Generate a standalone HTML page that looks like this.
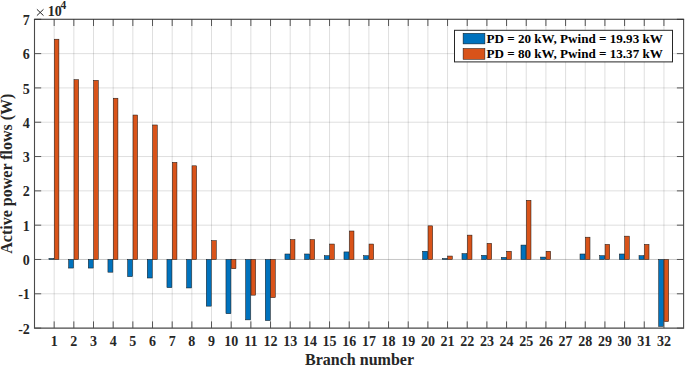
<!DOCTYPE html>
<html><head><meta charset="utf-8"><style>
html,body{margin:0;padding:0;background:#fff;width:685px;height:366px;overflow:hidden}
svg{display:block}
text{font-family:"Liberation Serif",serif;fill:#262626}
.t{font-size:14px;font-weight:bold}
.e{font-size:14px;font-weight:normal}
.s{font-size:11.5px;font-weight:bold}
.l{font-size:16px;font-weight:bold}
.g{font-size:13.1px;font-weight:bold;fill:#000}
</style></head><body>
<svg width="685" height="366" viewBox="0 0 685 366">
<line x1="54.17" y1="19.30" x2="54.17" y2="328.10" stroke="#262626" stroke-opacity="0.15" stroke-width="1"/>
<line x1="73.84" y1="19.30" x2="73.84" y2="328.10" stroke="#262626" stroke-opacity="0.15" stroke-width="1"/>
<line x1="93.51" y1="19.30" x2="93.51" y2="328.10" stroke="#262626" stroke-opacity="0.15" stroke-width="1"/>
<line x1="113.18" y1="19.30" x2="113.18" y2="328.10" stroke="#262626" stroke-opacity="0.15" stroke-width="1"/>
<line x1="132.85" y1="19.30" x2="132.85" y2="328.10" stroke="#262626" stroke-opacity="0.15" stroke-width="1"/>
<line x1="152.52" y1="19.30" x2="152.52" y2="328.10" stroke="#262626" stroke-opacity="0.15" stroke-width="1"/>
<line x1="172.19" y1="19.30" x2="172.19" y2="328.10" stroke="#262626" stroke-opacity="0.15" stroke-width="1"/>
<line x1="191.86" y1="19.30" x2="191.86" y2="328.10" stroke="#262626" stroke-opacity="0.15" stroke-width="1"/>
<line x1="211.53" y1="19.30" x2="211.53" y2="328.10" stroke="#262626" stroke-opacity="0.15" stroke-width="1"/>
<line x1="231.20" y1="19.30" x2="231.20" y2="328.10" stroke="#262626" stroke-opacity="0.15" stroke-width="1"/>
<line x1="250.87" y1="19.30" x2="250.87" y2="328.10" stroke="#262626" stroke-opacity="0.15" stroke-width="1"/>
<line x1="270.54" y1="19.30" x2="270.54" y2="328.10" stroke="#262626" stroke-opacity="0.15" stroke-width="1"/>
<line x1="290.21" y1="19.30" x2="290.21" y2="328.10" stroke="#262626" stroke-opacity="0.15" stroke-width="1"/>
<line x1="309.88" y1="19.30" x2="309.88" y2="328.10" stroke="#262626" stroke-opacity="0.15" stroke-width="1"/>
<line x1="329.55" y1="19.30" x2="329.55" y2="328.10" stroke="#262626" stroke-opacity="0.15" stroke-width="1"/>
<line x1="349.22" y1="19.30" x2="349.22" y2="328.10" stroke="#262626" stroke-opacity="0.15" stroke-width="1"/>
<line x1="368.88" y1="19.30" x2="368.88" y2="328.10" stroke="#262626" stroke-opacity="0.15" stroke-width="1"/>
<line x1="388.55" y1="19.30" x2="388.55" y2="328.10" stroke="#262626" stroke-opacity="0.15" stroke-width="1"/>
<line x1="408.22" y1="19.30" x2="408.22" y2="328.10" stroke="#262626" stroke-opacity="0.15" stroke-width="1"/>
<line x1="427.89" y1="19.30" x2="427.89" y2="328.10" stroke="#262626" stroke-opacity="0.15" stroke-width="1"/>
<line x1="447.56" y1="19.30" x2="447.56" y2="328.10" stroke="#262626" stroke-opacity="0.15" stroke-width="1"/>
<line x1="467.23" y1="19.30" x2="467.23" y2="328.10" stroke="#262626" stroke-opacity="0.15" stroke-width="1"/>
<line x1="486.90" y1="19.30" x2="486.90" y2="328.10" stroke="#262626" stroke-opacity="0.15" stroke-width="1"/>
<line x1="506.57" y1="19.30" x2="506.57" y2="328.10" stroke="#262626" stroke-opacity="0.15" stroke-width="1"/>
<line x1="526.24" y1="19.30" x2="526.24" y2="328.10" stroke="#262626" stroke-opacity="0.15" stroke-width="1"/>
<line x1="545.91" y1="19.30" x2="545.91" y2="328.10" stroke="#262626" stroke-opacity="0.15" stroke-width="1"/>
<line x1="565.58" y1="19.30" x2="565.58" y2="328.10" stroke="#262626" stroke-opacity="0.15" stroke-width="1"/>
<line x1="585.25" y1="19.30" x2="585.25" y2="328.10" stroke="#262626" stroke-opacity="0.15" stroke-width="1"/>
<line x1="604.92" y1="19.30" x2="604.92" y2="328.10" stroke="#262626" stroke-opacity="0.15" stroke-width="1"/>
<line x1="624.59" y1="19.30" x2="624.59" y2="328.10" stroke="#262626" stroke-opacity="0.15" stroke-width="1"/>
<line x1="644.26" y1="19.30" x2="644.26" y2="328.10" stroke="#262626" stroke-opacity="0.15" stroke-width="1"/>
<line x1="663.93" y1="19.30" x2="663.93" y2="328.10" stroke="#262626" stroke-opacity="0.15" stroke-width="1"/>
<line x1="34.50" y1="293.79" x2="683.60" y2="293.79" stroke="#262626" stroke-opacity="0.15" stroke-width="1"/>
<line x1="34.50" y1="259.48" x2="683.60" y2="259.48" stroke="#262626" stroke-opacity="0.26" stroke-width="1"/>
<line x1="34.50" y1="225.17" x2="683.60" y2="225.17" stroke="#262626" stroke-opacity="0.15" stroke-width="1"/>
<line x1="34.50" y1="190.86" x2="683.60" y2="190.86" stroke="#262626" stroke-opacity="0.15" stroke-width="1"/>
<line x1="34.50" y1="156.54" x2="683.60" y2="156.54" stroke="#262626" stroke-opacity="0.15" stroke-width="1"/>
<line x1="34.50" y1="122.23" x2="683.60" y2="122.23" stroke="#262626" stroke-opacity="0.15" stroke-width="1"/>
<line x1="34.50" y1="87.92" x2="683.60" y2="87.92" stroke="#262626" stroke-opacity="0.15" stroke-width="1"/>
<line x1="34.50" y1="53.61" x2="683.60" y2="53.61" stroke="#262626" stroke-opacity="0.15" stroke-width="1"/>
<rect x="48.92" y="258.45" width="4.95" height="1.03" fill="#0072BD" stroke="#111" stroke-width="0.5"/>
<rect x="54.32" y="39.20" width="4.60" height="220.28" fill="#D95319" stroke="#111" stroke-width="0.5"/>
<rect x="68.59" y="259.48" width="4.95" height="8.58" fill="#0072BD" stroke="#111" stroke-width="0.5"/>
<rect x="73.99" y="79.69" width="4.60" height="179.79" fill="#D95319" stroke="#111" stroke-width="0.5"/>
<rect x="88.26" y="259.48" width="4.95" height="8.58" fill="#0072BD" stroke="#111" stroke-width="0.5"/>
<rect x="93.66" y="80.37" width="4.60" height="179.10" fill="#D95319" stroke="#111" stroke-width="0.5"/>
<rect x="107.93" y="259.48" width="4.95" height="12.70" fill="#0072BD" stroke="#111" stroke-width="0.5"/>
<rect x="113.33" y="98.22" width="4.60" height="161.26" fill="#D95319" stroke="#111" stroke-width="0.5"/>
<rect x="127.60" y="259.48" width="4.95" height="17.16" fill="#0072BD" stroke="#111" stroke-width="0.5"/>
<rect x="133.00" y="115.03" width="4.60" height="144.45" fill="#D95319" stroke="#111" stroke-width="0.5"/>
<rect x="147.27" y="259.48" width="4.95" height="18.53" fill="#0072BD" stroke="#111" stroke-width="0.5"/>
<rect x="152.67" y="124.98" width="4.60" height="134.50" fill="#D95319" stroke="#111" stroke-width="0.5"/>
<rect x="166.94" y="259.48" width="4.95" height="28.14" fill="#0072BD" stroke="#111" stroke-width="0.5"/>
<rect x="172.34" y="162.38" width="4.60" height="97.10" fill="#D95319" stroke="#111" stroke-width="0.5"/>
<rect x="186.61" y="259.48" width="4.95" height="28.48" fill="#0072BD" stroke="#111" stroke-width="0.5"/>
<rect x="192.01" y="165.81" width="4.60" height="93.67" fill="#D95319" stroke="#111" stroke-width="0.5"/>
<rect x="206.28" y="259.48" width="4.95" height="46.66" fill="#0072BD" stroke="#111" stroke-width="0.5"/>
<rect x="211.68" y="240.61" width="4.60" height="18.87" fill="#D95319" stroke="#111" stroke-width="0.5"/>
<rect x="225.95" y="259.48" width="4.95" height="54.21" fill="#0072BD" stroke="#111" stroke-width="0.5"/>
<rect x="231.35" y="259.48" width="4.60" height="9.26" fill="#D95319" stroke="#111" stroke-width="0.5"/>
<rect x="245.62" y="259.48" width="4.95" height="60.39" fill="#0072BD" stroke="#111" stroke-width="0.5"/>
<rect x="251.02" y="259.48" width="4.60" height="35.68" fill="#D95319" stroke="#111" stroke-width="0.5"/>
<rect x="265.29" y="259.48" width="4.95" height="61.07" fill="#0072BD" stroke="#111" stroke-width="0.5"/>
<rect x="270.69" y="259.48" width="4.60" height="38.09" fill="#D95319" stroke="#111" stroke-width="0.5"/>
<rect x="284.96" y="253.99" width="4.95" height="5.49" fill="#0072BD" stroke="#111" stroke-width="0.5"/>
<rect x="290.36" y="239.58" width="4.60" height="19.90" fill="#D95319" stroke="#111" stroke-width="0.5"/>
<rect x="304.63" y="253.99" width="4.95" height="5.49" fill="#0072BD" stroke="#111" stroke-width="0.5"/>
<rect x="310.03" y="239.58" width="4.60" height="19.90" fill="#D95319" stroke="#111" stroke-width="0.5"/>
<rect x="324.30" y="255.70" width="4.95" height="3.77" fill="#0072BD" stroke="#111" stroke-width="0.5"/>
<rect x="329.70" y="244.04" width="4.60" height="15.44" fill="#D95319" stroke="#111" stroke-width="0.5"/>
<rect x="343.97" y="251.93" width="4.95" height="7.55" fill="#0072BD" stroke="#111" stroke-width="0.5"/>
<rect x="349.37" y="231.00" width="4.60" height="28.48" fill="#D95319" stroke="#111" stroke-width="0.5"/>
<rect x="363.63" y="255.70" width="4.95" height="3.77" fill="#0072BD" stroke="#111" stroke-width="0.5"/>
<rect x="369.03" y="244.04" width="4.60" height="15.44" fill="#D95319" stroke="#111" stroke-width="0.5"/>
<rect x="422.64" y="251.24" width="4.95" height="8.23" fill="#0072BD" stroke="#111" stroke-width="0.5"/>
<rect x="428.04" y="225.85" width="4.60" height="33.62" fill="#D95319" stroke="#111" stroke-width="0.5"/>
<rect x="442.31" y="258.45" width="4.95" height="1.03" fill="#0072BD" stroke="#111" stroke-width="0.5"/>
<rect x="447.71" y="256.05" width="4.60" height="3.43" fill="#D95319" stroke="#111" stroke-width="0.5"/>
<rect x="461.98" y="253.64" width="4.95" height="5.83" fill="#0072BD" stroke="#111" stroke-width="0.5"/>
<rect x="467.38" y="235.12" width="4.60" height="24.36" fill="#D95319" stroke="#111" stroke-width="0.5"/>
<rect x="481.65" y="255.36" width="4.95" height="4.12" fill="#0072BD" stroke="#111" stroke-width="0.5"/>
<rect x="487.05" y="243.35" width="4.60" height="16.13" fill="#D95319" stroke="#111" stroke-width="0.5"/>
<rect x="501.32" y="257.42" width="4.95" height="2.06" fill="#0072BD" stroke="#111" stroke-width="0.5"/>
<rect x="506.72" y="251.24" width="4.60" height="8.23" fill="#D95319" stroke="#111" stroke-width="0.5"/>
<rect x="520.99" y="245.07" width="4.95" height="14.41" fill="#0072BD" stroke="#111" stroke-width="0.5"/>
<rect x="526.39" y="200.29" width="4.60" height="59.19" fill="#D95319" stroke="#111" stroke-width="0.5"/>
<rect x="540.66" y="257.08" width="4.95" height="2.40" fill="#0072BD" stroke="#111" stroke-width="0.5"/>
<rect x="546.06" y="251.24" width="4.60" height="8.23" fill="#D95319" stroke="#111" stroke-width="0.5"/>
<rect x="580.00" y="253.99" width="4.95" height="5.49" fill="#0072BD" stroke="#111" stroke-width="0.5"/>
<rect x="585.40" y="237.18" width="4.60" height="22.30" fill="#D95319" stroke="#111" stroke-width="0.5"/>
<rect x="599.67" y="255.70" width="4.95" height="3.77" fill="#0072BD" stroke="#111" stroke-width="0.5"/>
<rect x="605.07" y="244.38" width="4.60" height="15.10" fill="#D95319" stroke="#111" stroke-width="0.5"/>
<rect x="619.34" y="253.99" width="4.95" height="5.49" fill="#0072BD" stroke="#111" stroke-width="0.5"/>
<rect x="624.74" y="236.15" width="4.60" height="23.33" fill="#D95319" stroke="#111" stroke-width="0.5"/>
<rect x="639.01" y="255.70" width="4.95" height="3.77" fill="#0072BD" stroke="#111" stroke-width="0.5"/>
<rect x="644.41" y="244.38" width="4.60" height="15.10" fill="#D95319" stroke="#111" stroke-width="0.5"/>
<rect x="658.68" y="259.48" width="4.95" height="66.91" fill="#0072BD" stroke="#111" stroke-width="0.5"/>
<rect x="664.08" y="259.48" width="4.60" height="62.10" fill="#D95319" stroke="#111" stroke-width="0.5"/>
<line x1="54.17" y1="328.10" x2="54.17" y2="321.40" stroke="#555" stroke-width="1"/>
<line x1="54.17" y1="19.30" x2="54.17" y2="26.00" stroke="#555" stroke-width="1"/>
<line x1="73.84" y1="328.10" x2="73.84" y2="321.40" stroke="#555" stroke-width="1"/>
<line x1="73.84" y1="19.30" x2="73.84" y2="26.00" stroke="#555" stroke-width="1"/>
<line x1="93.51" y1="328.10" x2="93.51" y2="321.40" stroke="#555" stroke-width="1"/>
<line x1="93.51" y1="19.30" x2="93.51" y2="26.00" stroke="#555" stroke-width="1"/>
<line x1="113.18" y1="328.10" x2="113.18" y2="321.40" stroke="#555" stroke-width="1"/>
<line x1="113.18" y1="19.30" x2="113.18" y2="26.00" stroke="#555" stroke-width="1"/>
<line x1="132.85" y1="328.10" x2="132.85" y2="321.40" stroke="#555" stroke-width="1"/>
<line x1="132.85" y1="19.30" x2="132.85" y2="26.00" stroke="#555" stroke-width="1"/>
<line x1="152.52" y1="328.10" x2="152.52" y2="321.40" stroke="#555" stroke-width="1"/>
<line x1="152.52" y1="19.30" x2="152.52" y2="26.00" stroke="#555" stroke-width="1"/>
<line x1="172.19" y1="328.10" x2="172.19" y2="321.40" stroke="#555" stroke-width="1"/>
<line x1="172.19" y1="19.30" x2="172.19" y2="26.00" stroke="#555" stroke-width="1"/>
<line x1="191.86" y1="328.10" x2="191.86" y2="321.40" stroke="#555" stroke-width="1"/>
<line x1="191.86" y1="19.30" x2="191.86" y2="26.00" stroke="#555" stroke-width="1"/>
<line x1="211.53" y1="328.10" x2="211.53" y2="321.40" stroke="#555" stroke-width="1"/>
<line x1="211.53" y1="19.30" x2="211.53" y2="26.00" stroke="#555" stroke-width="1"/>
<line x1="231.20" y1="328.10" x2="231.20" y2="321.40" stroke="#555" stroke-width="1"/>
<line x1="231.20" y1="19.30" x2="231.20" y2="26.00" stroke="#555" stroke-width="1"/>
<line x1="250.87" y1="328.10" x2="250.87" y2="321.40" stroke="#555" stroke-width="1"/>
<line x1="250.87" y1="19.30" x2="250.87" y2="26.00" stroke="#555" stroke-width="1"/>
<line x1="270.54" y1="328.10" x2="270.54" y2="321.40" stroke="#555" stroke-width="1"/>
<line x1="270.54" y1="19.30" x2="270.54" y2="26.00" stroke="#555" stroke-width="1"/>
<line x1="290.21" y1="328.10" x2="290.21" y2="321.40" stroke="#555" stroke-width="1"/>
<line x1="290.21" y1="19.30" x2="290.21" y2="26.00" stroke="#555" stroke-width="1"/>
<line x1="309.88" y1="328.10" x2="309.88" y2="321.40" stroke="#555" stroke-width="1"/>
<line x1="309.88" y1="19.30" x2="309.88" y2="26.00" stroke="#555" stroke-width="1"/>
<line x1="329.55" y1="328.10" x2="329.55" y2="321.40" stroke="#555" stroke-width="1"/>
<line x1="329.55" y1="19.30" x2="329.55" y2="26.00" stroke="#555" stroke-width="1"/>
<line x1="349.22" y1="328.10" x2="349.22" y2="321.40" stroke="#555" stroke-width="1"/>
<line x1="349.22" y1="19.30" x2="349.22" y2="26.00" stroke="#555" stroke-width="1"/>
<line x1="368.88" y1="328.10" x2="368.88" y2="321.40" stroke="#555" stroke-width="1"/>
<line x1="368.88" y1="19.30" x2="368.88" y2="26.00" stroke="#555" stroke-width="1"/>
<line x1="388.55" y1="328.10" x2="388.55" y2="321.40" stroke="#555" stroke-width="1"/>
<line x1="388.55" y1="19.30" x2="388.55" y2="26.00" stroke="#555" stroke-width="1"/>
<line x1="408.22" y1="328.10" x2="408.22" y2="321.40" stroke="#555" stroke-width="1"/>
<line x1="408.22" y1="19.30" x2="408.22" y2="26.00" stroke="#555" stroke-width="1"/>
<line x1="427.89" y1="328.10" x2="427.89" y2="321.40" stroke="#555" stroke-width="1"/>
<line x1="427.89" y1="19.30" x2="427.89" y2="26.00" stroke="#555" stroke-width="1"/>
<line x1="447.56" y1="328.10" x2="447.56" y2="321.40" stroke="#555" stroke-width="1"/>
<line x1="447.56" y1="19.30" x2="447.56" y2="26.00" stroke="#555" stroke-width="1"/>
<line x1="467.23" y1="328.10" x2="467.23" y2="321.40" stroke="#555" stroke-width="1"/>
<line x1="467.23" y1="19.30" x2="467.23" y2="26.00" stroke="#555" stroke-width="1"/>
<line x1="486.90" y1="328.10" x2="486.90" y2="321.40" stroke="#555" stroke-width="1"/>
<line x1="486.90" y1="19.30" x2="486.90" y2="26.00" stroke="#555" stroke-width="1"/>
<line x1="506.57" y1="328.10" x2="506.57" y2="321.40" stroke="#555" stroke-width="1"/>
<line x1="506.57" y1="19.30" x2="506.57" y2="26.00" stroke="#555" stroke-width="1"/>
<line x1="526.24" y1="328.10" x2="526.24" y2="321.40" stroke="#555" stroke-width="1"/>
<line x1="526.24" y1="19.30" x2="526.24" y2="26.00" stroke="#555" stroke-width="1"/>
<line x1="545.91" y1="328.10" x2="545.91" y2="321.40" stroke="#555" stroke-width="1"/>
<line x1="545.91" y1="19.30" x2="545.91" y2="26.00" stroke="#555" stroke-width="1"/>
<line x1="565.58" y1="328.10" x2="565.58" y2="321.40" stroke="#555" stroke-width="1"/>
<line x1="565.58" y1="19.30" x2="565.58" y2="26.00" stroke="#555" stroke-width="1"/>
<line x1="585.25" y1="328.10" x2="585.25" y2="321.40" stroke="#555" stroke-width="1"/>
<line x1="585.25" y1="19.30" x2="585.25" y2="26.00" stroke="#555" stroke-width="1"/>
<line x1="604.92" y1="328.10" x2="604.92" y2="321.40" stroke="#555" stroke-width="1"/>
<line x1="604.92" y1="19.30" x2="604.92" y2="26.00" stroke="#555" stroke-width="1"/>
<line x1="624.59" y1="328.10" x2="624.59" y2="321.40" stroke="#555" stroke-width="1"/>
<line x1="624.59" y1="19.30" x2="624.59" y2="26.00" stroke="#555" stroke-width="1"/>
<line x1="644.26" y1="328.10" x2="644.26" y2="321.40" stroke="#555" stroke-width="1"/>
<line x1="644.26" y1="19.30" x2="644.26" y2="26.00" stroke="#555" stroke-width="1"/>
<line x1="663.93" y1="328.10" x2="663.93" y2="321.40" stroke="#555" stroke-width="1"/>
<line x1="663.93" y1="19.30" x2="663.93" y2="26.00" stroke="#555" stroke-width="1"/>
<line x1="34.50" y1="328.10" x2="41.20" y2="328.10" stroke="#555" stroke-width="1"/>
<line x1="683.60" y1="328.10" x2="676.90" y2="328.10" stroke="#555" stroke-width="1"/>
<line x1="34.50" y1="293.79" x2="41.20" y2="293.79" stroke="#555" stroke-width="1"/>
<line x1="683.60" y1="293.79" x2="676.90" y2="293.79" stroke="#555" stroke-width="1"/>
<line x1="34.50" y1="259.48" x2="41.20" y2="259.48" stroke="#555" stroke-width="1"/>
<line x1="683.60" y1="259.48" x2="676.90" y2="259.48" stroke="#555" stroke-width="1"/>
<line x1="34.50" y1="225.17" x2="41.20" y2="225.17" stroke="#555" stroke-width="1"/>
<line x1="683.60" y1="225.17" x2="676.90" y2="225.17" stroke="#555" stroke-width="1"/>
<line x1="34.50" y1="190.86" x2="41.20" y2="190.86" stroke="#555" stroke-width="1"/>
<line x1="683.60" y1="190.86" x2="676.90" y2="190.86" stroke="#555" stroke-width="1"/>
<line x1="34.50" y1="156.54" x2="41.20" y2="156.54" stroke="#555" stroke-width="1"/>
<line x1="683.60" y1="156.54" x2="676.90" y2="156.54" stroke="#555" stroke-width="1"/>
<line x1="34.50" y1="122.23" x2="41.20" y2="122.23" stroke="#555" stroke-width="1"/>
<line x1="683.60" y1="122.23" x2="676.90" y2="122.23" stroke="#555" stroke-width="1"/>
<line x1="34.50" y1="87.92" x2="41.20" y2="87.92" stroke="#555" stroke-width="1"/>
<line x1="683.60" y1="87.92" x2="676.90" y2="87.92" stroke="#555" stroke-width="1"/>
<line x1="34.50" y1="53.61" x2="41.20" y2="53.61" stroke="#555" stroke-width="1"/>
<line x1="683.60" y1="53.61" x2="676.90" y2="53.61" stroke="#555" stroke-width="1"/>
<line x1="34.50" y1="19.30" x2="41.20" y2="19.30" stroke="#555" stroke-width="1"/>
<line x1="683.60" y1="19.30" x2="676.90" y2="19.30" stroke="#555" stroke-width="1"/>
<path d="M34.50 19.30 V328.10 H683.60 V19.30" fill="none" stroke="#4a4a4a" stroke-width="1.1"/>
<line x1="33.95" y1="19.30" x2="684.15" y2="19.30" stroke="#262626" stroke-width="1.1"/>
<text x="54.17" y="345.5" text-anchor="middle" class="t">1</text>
<text x="73.84" y="345.5" text-anchor="middle" class="t">2</text>
<text x="93.51" y="345.5" text-anchor="middle" class="t">3</text>
<text x="113.18" y="345.5" text-anchor="middle" class="t">4</text>
<text x="132.85" y="345.5" text-anchor="middle" class="t">5</text>
<text x="152.52" y="345.5" text-anchor="middle" class="t">6</text>
<text x="172.19" y="345.5" text-anchor="middle" class="t">7</text>
<text x="191.86" y="345.5" text-anchor="middle" class="t">8</text>
<text x="211.53" y="345.5" text-anchor="middle" class="t">9</text>
<text x="231.20" y="345.5" text-anchor="middle" class="t">10</text>
<text x="250.87" y="345.5" text-anchor="middle" class="t">11</text>
<text x="270.54" y="345.5" text-anchor="middle" class="t">12</text>
<text x="290.21" y="345.5" text-anchor="middle" class="t">13</text>
<text x="309.88" y="345.5" text-anchor="middle" class="t">14</text>
<text x="329.55" y="345.5" text-anchor="middle" class="t">15</text>
<text x="349.22" y="345.5" text-anchor="middle" class="t">16</text>
<text x="368.88" y="345.5" text-anchor="middle" class="t">17</text>
<text x="388.55" y="345.5" text-anchor="middle" class="t">18</text>
<text x="408.22" y="345.5" text-anchor="middle" class="t">19</text>
<text x="427.89" y="345.5" text-anchor="middle" class="t">20</text>
<text x="447.56" y="345.5" text-anchor="middle" class="t">21</text>
<text x="467.23" y="345.5" text-anchor="middle" class="t">22</text>
<text x="486.90" y="345.5" text-anchor="middle" class="t">23</text>
<text x="506.57" y="345.5" text-anchor="middle" class="t">24</text>
<text x="526.24" y="345.5" text-anchor="middle" class="t">25</text>
<text x="545.91" y="345.5" text-anchor="middle" class="t">26</text>
<text x="565.58" y="345.5" text-anchor="middle" class="t">27</text>
<text x="585.25" y="345.5" text-anchor="middle" class="t">28</text>
<text x="604.92" y="345.5" text-anchor="middle" class="t">29</text>
<text x="624.59" y="345.5" text-anchor="middle" class="t">30</text>
<text x="644.26" y="345.5" text-anchor="middle" class="t">31</text>
<text x="663.93" y="345.5" text-anchor="middle" class="t">32</text>
<text x="29.8" y="333.70" text-anchor="end" class="t">-2</text>
<text x="29.8" y="299.39" text-anchor="end" class="t">-1</text>
<text x="29.8" y="265.08" text-anchor="end" class="t">0</text>
<text x="29.8" y="230.77" text-anchor="end" class="t">1</text>
<text x="29.8" y="196.46" text-anchor="end" class="t">2</text>
<text x="29.8" y="162.14" text-anchor="end" class="t">3</text>
<text x="29.8" y="127.83" text-anchor="end" class="t">4</text>
<text x="29.8" y="93.52" text-anchor="end" class="t">5</text>
<text x="29.8" y="59.21" text-anchor="end" class="t">6</text>
<text x="29.8" y="24.90" text-anchor="end" class="t">7</text>
<path d="M36.9 9.3 L43.5 15.6 M43.5 9.3 L36.9 15.6" stroke="#262626" stroke-width="1" fill="none"/>
<text x="47.8" y="16.4" class="t">10</text>
<text x="60.6" y="9.4" class="s">4</text>
<text x="359.55" y="364.6" text-anchor="middle" class="l">Branch number</text>
<text transform="translate(12.4,173.65) rotate(-90)" text-anchor="middle" class="l">Active power flows (W)</text>
<rect x="454.5" y="30.3" width="218" height="31.6" fill="#fff" stroke="#262626" stroke-width="1"/>
<rect x="463.1" y="33.3" width="21.8" height="10.6" fill="#0072BD" stroke="#111" stroke-width="0.5"/>
<rect x="463.1" y="48.5" width="21.8" height="10.8" fill="#D95319" stroke="#111" stroke-width="0.5"/>
<text x="486.5" y="43.4" class="g">PD = 20 kW, Pwind = 19.93 kW</text>
<text x="486.5" y="58.4" class="g">PD = 80 kW, Pwind = 13.37 kW</text>
</svg>
</body></html>
